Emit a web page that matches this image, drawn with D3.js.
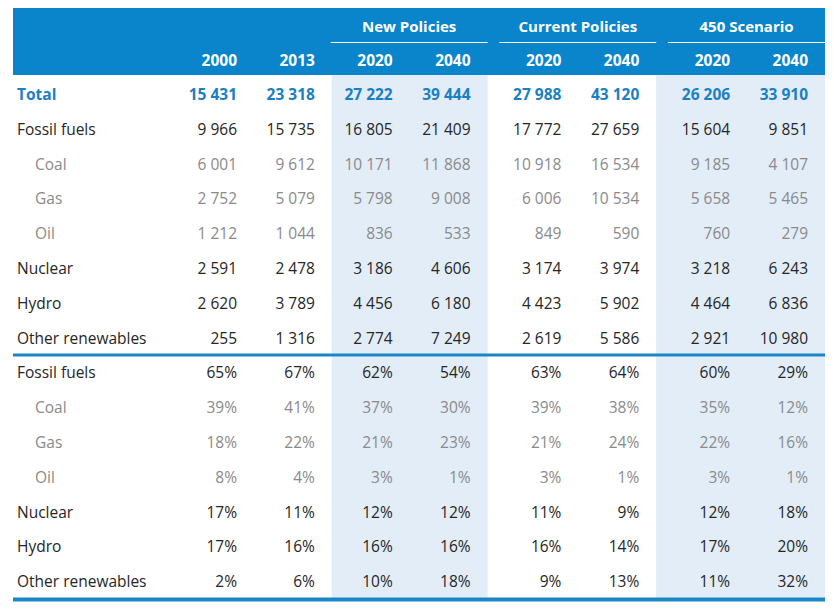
<!DOCTYPE html>
<html><head><meta charset="utf-8">
<script src="https://cdn.jsdelivr.net/npm/d3@7"></script>
<style>body{margin:0;background:#fff}svg{display:block}</style>
</head><body>
<script>
// ---- data ----
const groups = ["", "New Policies", "Current Policies", "450 Scenario"];
const columns = ["2000", "2013", "2020", "2040", "2020", "2040", "2020", "2040"];
const columnGroup = [0, 0, 1, 1, 2, 2, 3, 3];
const rowLabels = ["Total", "Fossil fuels", "Coal", "Gas", "Oil", "Nuclear", "Hydro", "Other renewables"];
const rowKinds = ["total", "main", "sub", "sub", "sub", "main", "main", "main"];
const values = [
  [15431, 23318, 27222, 39444, 27988, 43120, 26206, 33910],
  [9966, 15735, 16805, 21409, 17772, 27659, 15604, 9851],
  [6001, 9612, 10171, 11868, 10918, 16534, 9185, 4107],
  [2752, 5079, 5798, 9008, 6006, 10534, 5658, 5465],
  [1212, 1044, 836, 533, 849, 590, 760, 279],
  [2591, 2478, 3186, 4606, 3174, 3974, 3218, 6243],
  [2620, 3789, 4456, 6180, 4423, 5902, 4464, 6836],
  [255, 1316, 2774, 7249, 2619, 5586, 2921, 10980]
];
const shareLabels = ["Fossil fuels", "Coal", "Gas", "Oil", "Nuclear", "Hydro", "Other renewables"];
const shareKinds = ["main", "sub", "sub", "sub", "main", "main", "main"];
const shares = [
  [65, 67, 62, 54, 63, 64, 60, 29],
  [39, 41, 37, 30, 39, 38, 35, 12],
  [18, 22, 21, 23, 21, 24, 22, 16],
  [8, 4, 3, 1, 3, 1, 3, 1],
  [17, 11, 12, 12, 11, 9, 12, 18],
  [17, 16, 16, 16, 16, 14, 17, 20],
  [2, 6, 10, 18, 9, 13, 11, 32]
];
const shadedGroups = [1, 3];

// ---- layout ----
const W = 834, H = 609;
const blue = "#0a85cc", lineBlue = "#1a86c6", shade = "#e2edf8";
const font = "'Open Sans', Lato, sans-serif";
const svg = d3.select("body").append("svg").attr("width", W).attr("height", H)
  .style("font-family", font);

const tableLeft = 13, tableRight = 825;
const slot = (i) => i + Math.max(0, columnGroup[i] - 1) * 0.1667;
const x = d3.scaleLinear().domain([0, 7.3334]).range([237, 808]);
const groupLeft = [tableLeft, x(slot(2)) - 61, x(slot(4)) - 74, x(slot(6)) - 74];
const groupRight = [groupLeft[1], x(slot(3)) + 17, x(slot(5)) + 17, tableRight];

const allRows = rowLabels.map((l, i) => ({label: l, kind: rowKinds[i], vals: values[i], pct: false}))
  .concat(shareLabels.map((l, i) => ({label: l, kind: shareKinds[i], vals: shares[i], pct: true})));
const y = d3.scaleBand().domain(d3.range(allRows.length)).range([76.5, 598.5]);

svg.append("rect").attr("x", tableLeft).attr("y", 8).attr("width", tableRight - tableLeft).attr("height", 67).attr("fill", blue);

shadedGroups.forEach(g => {
  svg.append("rect").attr("x", groupLeft[g]).attr("y", 75)
    .attr("width", groupRight[g] - groupLeft[g]).attr("height", 523).attr("fill", shade);
});

[1, 2, 3].forEach(g => {
  const l = g === 1 ? groupLeft[g] - 1 : groupLeft[g] + 12;
  const r = groupRight[g];
  svg.append("text").attr("x", (l + r) / 2).attr("y", 32).attr("text-anchor", "middle")
    .attr("fill", "#fff").attr("font-weight", "bold").attr("font-size", 15).text(groups[g]);
  svg.append("line").attr("x1", l).attr("x2", r).attr("y1", 42.5).attr("y2", 42.5)
    .attr("stroke", "#fff").attr("stroke-width", 1);
});

svg.selectAll("text.yr").data(columns).join("text").attr("class", "yr")
  .attr("x", (d, i) => x(slot(i))).attr("y", 66).attr("text-anchor", "end")
  .attr("fill", "#fff").attr("font-weight", "bold").attr("font-size", 15.5).text(d => d);

const fmt = v => d3.format(",")(v).replace(/,/g, "\u00a0");
const colorFor = k => k === "total" ? "#1b7fc3" : k === "sub" ? "#8a8a8a" : "#262626";

const rowG = svg.selectAll("g.row").data(allRows).join("g").attr("class", "row")
  .attr("transform", (d, i) => `translate(0,${y(i) + y.bandwidth() / 2 + 6})`);

rowG.append("text").attr("x", d => d.kind === "sub" ? 35 : 17)
  .attr("fill", d => colorFor(d.kind)).attr("font-weight", d => d.kind === "total" ? "bold" : "normal")
  .attr("font-size", 15.5).text(d => d.label);

rowG.each(function(d) {
  d3.select(this).selectAll("text.v").data(d.vals).join("text").attr("class", "v")
    .attr("x", (v, i) => x(slot(i))).attr("text-anchor", "end")
    .attr("fill", colorFor(d.kind)).attr("font-weight", d.kind === "total" ? "bold" : "normal")
    .attr("font-size", 15.5).text(v => d.pct ? v + "%" : fmt(v));
});

svg.append("line").attr("x1", tableLeft).attr("x2", tableRight)
  .attr("y1", y(8)).attr("y2", y(8)).attr("stroke", lineBlue).attr("stroke-width", 3);
svg.append("line").attr("x1", tableLeft).attr("x2", tableRight)
  .attr("y1", 599.5).attr("y2", 599.5).attr("stroke", lineBlue).attr("stroke-width", 4);
</script>
</body></html>
